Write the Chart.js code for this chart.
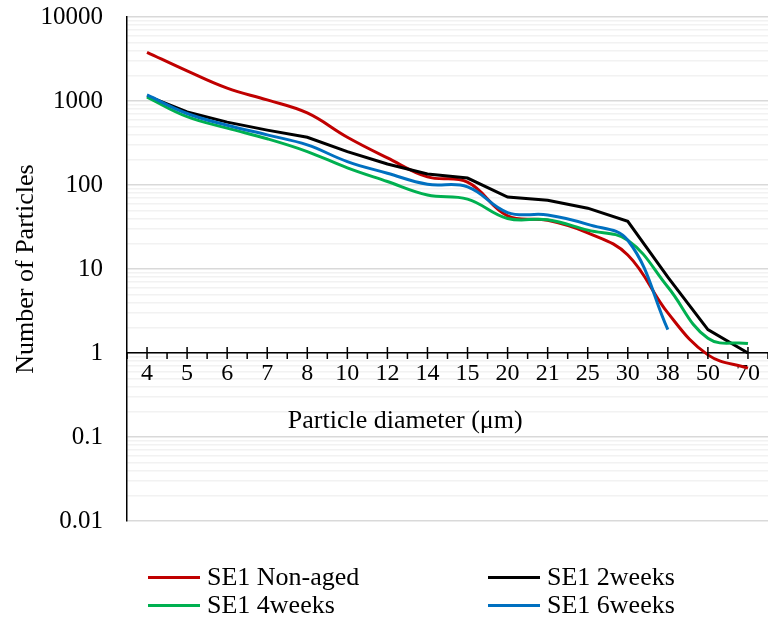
<!DOCTYPE html>
<html>
<head>
<meta charset="utf-8">
<script src="https://cdn.jsdelivr.net/npm/chart.js@4/dist/chart.umd.min.js"></script>
<style>
  body { margin: 0; background: #fff; }
  #wrap { position: relative; width: 768px; height: 623px; }
  #chart { position: absolute; left: 0; top: 0; }
  #legend { position: absolute; left: 0; top: 563px; width: 768px; font-family: "Liberation Serif", serif; font-size: 26px; color: #000; }
  .item { position: absolute; height: 28px; line-height: 28px; white-space: nowrap; }
  .item span.line { display: inline-block; width: 52px; height: 3px; vertical-align: middle; margin-right: 7px; position: relative; top: -2px; }
</style>
</head>
<body>
<div id="wrap">
  <canvas id="chart" width="768" height="623"></canvas>
  <div id="legend"></div>
</div>
<script>
const sizes = ["4", "5", "6", "7", "8", "10", "12", "14", "15", "20", "21", "25", "30", "38", "50", "70"];
const nonAged = [3800, 2280, 1420, 1030, 720, 370, 210, 125, 108, 43, 38, 27, 14.7, 3.0, 0.95, 0.66];
const weeks2 = [1150, 740, 560, 450, 370, 250, 178, 135, 121, 72, 66, 53, 37, 8, 1.9, 1.0];
const weeks4 = [1110, 650, 475, 355, 250, 160, 110, 76, 68, 40, 38.5, 29, 22, 6.1, 1.5, 1.3];
const weeks6 = [1180, 710, 515, 395, 300, 190, 138, 102, 95, 47, 44, 34, 22, 1.9, null, null];
const yTicks = [0.01, 0.1, 1, 10, 100, 1000, 10000];

const seriesNames = ["SE1 Non-aged", "SE1 2weeks", "SE1 4weeks", "SE1 6weeks"];
const seriesColors = ["#C00000", "#000000", "#00B050", "#0070C0"];
const serif = "'Liberation Serif', 'Times New Roman', serif";

// x axis sits on y = 1, excel style tick marks drawn here
const axisTicks = {
  id: "axisTicks",
  afterDraw(chart) {
    const x = chart.scales.x, y = chart.scales.y;
    const ctx = chart.ctx;
    const y0 = y.getPixelForValue(1);
    ctx.save();
    ctx.strokeStyle = "#000";
    ctx.lineWidth = 1.5;
    ctx.beginPath();
    for (let i = 0; i < sizes.length; i++) {
      const px = x.getPixelForValue(i);
      ctx.moveTo(px, y0 - 6);
      ctx.lineTo(px, y0 + 6);
    }
    for (let i = 0; i <= sizes.length; i++) {
      const px = x.getPixelForValue(i - 0.5);
      ctx.moveTo(px, y0);
      ctx.lineTo(px, y0 + 6);
    }
    ctx.stroke();
    // axis title
    ctx.font = "26px " + serif;
    ctx.fillStyle = "#000";
    ctx.textAlign = "center";
    ctx.textBaseline = "middle";
    const area = chart.chartArea;
    ctx.fillText("Particle diameter (\u03bcm)", area.left + 0.434 * (area.right - area.left), y0 + 68);
    ctx.restore();
  }
};

const allSeries = [nonAged, weeks2, weeks4, weeks6];

const chart = new Chart("chart", {
  type: "line",
  data: {
    labels: sizes,
    datasets: allSeries.map((vals, i) => ({
      label: seriesNames[i],
      data: vals,
      borderColor: seriesColors[i],
      backgroundColor: seriesColors[i],
      borderWidth: 3,
      pointRadius: 0,
      tension: i === 1 ? 0 : 0.4,
      order: 4 - i
    }))
  },
  options: {
    responsive: false,
    animation: false,
    layout: { padding: { left: 3, top: 17, right: 0, bottom: 102 } },
    plugins: {
      legend: { display: false },
      tooltip: { enabled: false }
    },
    scales: {
      x: {
        type: "category",
        position: { y: 1 },
        offset: true,
        afterFit(axis) {
          axis.paddingTop = 0;
          axis.paddingBottom = 0;
        },
        grid: { display: false, drawTicks: false },
        border: { display: true, color: "#000", width: 1.5 },
        ticks: {
          color: "#000",
          font: { family: serif, size: 24 },
          padding: 6,
          autoSkip: false,
          maxRotation: 0
        }
      },
      y: {
        type: "logarithmic",
        min: 0.01,
        max: 10000,
        afterFit(axis) {
          axis.width = 124;
          axis.paddingTop = 0;
          axis.paddingBottom = 0;
        },
        afterBuildTicks(axis) {
          const t = [];
          for (let d = 0; d < yTicks.length - 1; d++) {
            for (let k = 1; k <= 9; k++) t.push({ value: k * yTicks[d] });
          }
          t.push({ value: yTicks[yTicks.length - 1] });
          axis.ticks = t;
        },
        grid: {
          drawTicks: false,
          color: (c) => yTicks.some(v => Math.abs(v - c.tick.value) < v * 1e-6) ? "#D9D9D9" : "#F2F2F2",
          lineWidth: 1.5
        },
        border: { display: true, color: "#000", width: 1.5 },
        ticks: {
          color: "#000",
          font: { family: serif, size: 25 },
          padding: 24,
          autoSkip: false,
          callback: (v) => {
            const hit = yTicks.find(d => Math.abs(d - v) < d * 1e-6);
            return hit === undefined ? "" : String(hit);
          }
        },
        title: {
          display: true,
          text: "Number of Particles",
          color: "#000",
          font: { family: serif, size: 26 },
          padding: { top: 8, bottom: 0 }
        }
      }
    }
  },
  plugins: [axisTicks]
});

// legend in two columns like the excel one
const legend = document.getElementById("legend");
const colX = [148, 488];
chart.data.datasets.forEach((ds, i) => {
  const item = document.createElement("div");
  item.className = "item";
  item.style.left = colX[i % 2] + "px";
  item.style.top = Math.floor(i / 2) * 28 + "px";
  item.innerHTML = '<span class="line" style="background:' + ds.borderColor + '"></span>' + ds.label;
  legend.appendChild(item);
});
</script>
</body>
</html>
